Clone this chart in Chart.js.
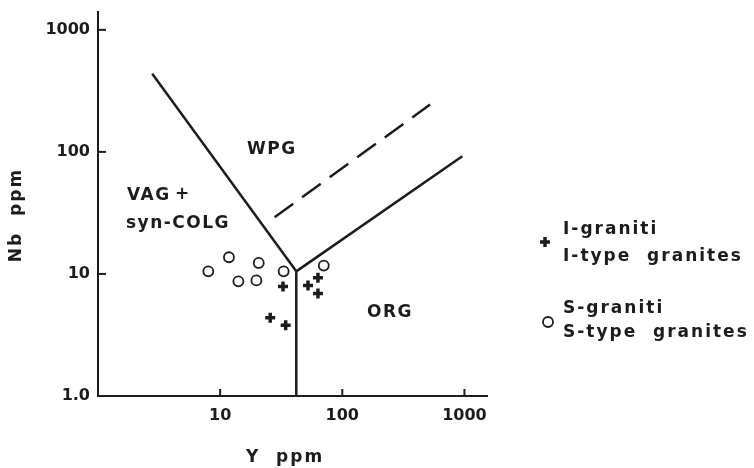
<!DOCTYPE html>
<html><head><meta charset="utf-8">
<script src="https://cdn.jsdelivr.net/npm/chart.js@4.4.1/dist/chart.umd.min.js"></script>
<style>html,body{margin:0;padding:0;background:#fff}#wrap{width:754px;height:468px}</style>
</head><body><div id="wrap"><canvas id="c" width="754" height="468"></canvas></div>
<script>
// Data (Y ppm, Nb ppm)
const iTypeY = [32.7, 63.2, 52.4, 63.2, 25.7, 34.4];
const iTypeNb = [7.9, 9.3, 8.05, 6.9, 4.38, 3.79];
const sTypeY = [11.8, 8.0, 20.7, 14.1, 19.8, 33.1, 70.5];
const sTypeNb = [13.7, 10.5, 12.3, 8.7, 8.85, 10.5, 11.7];
const vagWpgY = [2.78, 42];
const vagWpgNb = [437, 10.5];
const orgWpgY = [42, 960];
const orgWpgNb = [10.5, 92];
const vagOrgY = [42, 42];
const vagOrgNb = [10.5, 1];
const dashedY = [27.9, 523];
const dashedNb = [29.2, 244];
const xTicks = [10, 100, 1000];
const xTickLabels = ['10', '100', '1000'];
const yTicks = [1, 10, 100, 1000];
const yTickLabels = ['1.0', '10', '100', '1000'];
const fieldLabels = ['WPG', 'VAG', '+', 'syn-COLG', 'ORG'];
const legendLines = ['I-graniti', 'I-type  granites', 'S-graniti', 'S-type  granites'];
const xTitle = 'Y  ppm';
const yTitle = 'Nb  ppm';

const INK = '#1c1c1c';
const pts = (xs, ys) => xs.map((x, i) => ({x: x, y: ys[i]}));
const lineDs = (xs, ys, dash) => ({
  data: pts(xs, ys), showLine: true, borderColor: INK, borderWidth: 2.5,
  pointRadius: 0, borderDash: dash || [], fill: false
});

const overlay = {
  id: 'overlay',
  afterDraw(chart) {
    const ctx = chart.ctx, a = chart.chartArea;
    const xs = chart.scales.x, ys = chart.scales.y;
    ctx.save();
    ctx.strokeStyle = INK; ctx.lineWidth = 2;
    xTicks.forEach(v => {
      const p = xs.getPixelForValue(v);
      ctx.beginPath(); ctx.moveTo(p, a.bottom); ctx.lineTo(p, a.bottom - 7); ctx.stroke();
    });
    yTicks.forEach(v => {
      if (v === 1) return;
      const p = ys.getPixelForValue(v);
      ctx.beginPath(); ctx.moveTo(a.left, p); ctx.lineTo(a.left + 8, p); ctx.stroke();
    });
    ctx.fillStyle = INK;
    ctx.font = 'bold 17px "DejaVu Sans"';
    ctx.letterSpacing = '1.5px';
    ctx.textBaseline = 'middle';
    ctx.textAlign = 'left';
    ctx.fillText(fieldLabels[0], 247, 150);
    ctx.fillText(fieldLabels[1], 127, 196);
    ctx.fillText(fieldLabels[3], 126, 224);
    ctx.fillText(fieldLabels[4], 367, 313);
    ctx.textAlign = 'center';
    ctx.letterSpacing = '0px';
    ctx.fillText(fieldLabels[2], 182, 195);
    // legend
    ctx.textAlign = 'left';
    ctx.letterSpacing = '2px';
    ctx.fillText(legendLines[0], 563, 230);
    ctx.fillText(legendLines[1], 563, 257);
    ctx.fillText(legendLines[2], 563, 309);
    ctx.fillText(legendLines[3], 563, 333);
    ctx.lineWidth = 3.5;
    Chart.helpers.drawPoint(ctx, {pointStyle: 'cross', radius: 5, borderWidth: 3.5}, 545, 242);
    ctx.lineWidth = 1.8;
    ctx.fillStyle = '#ffffff';
    Chart.helpers.drawPoint(ctx, {pointStyle: 'circle', radius: 5, borderWidth: 1.8}, 548, 322);
    // titles
    ctx.fillStyle = INK;
    ctx.textAlign = 'center';
    ctx.fillText(xTitle, 285, 458);
    ctx.translate(17, 215); ctx.rotate(-Math.PI / 2);
    ctx.fillText(yTitle, 0, 0);
    ctx.restore();
  }
};

new Chart(document.getElementById('c'), {
  type: 'scatter',
  data: {
    datasets: [
      lineDs(vagWpgY, vagWpgNb),
      lineDs(orgWpgY, orgWpgNb),
      lineDs(vagOrgY, vagOrgNb),
      lineDs(dashedY, dashedNb, [23, 11]),
      {label: 'I-type granites', data: pts(iTypeY, iTypeNb), pointStyle: 'cross',
       pointRadius: 5, pointBorderWidth: 3.5, borderColor: INK, backgroundColor: INK},
      {label: 'S-type granites', data: pts(sTypeY, sTypeNb), pointStyle: 'circle',
       pointRadius: 5, pointBorderWidth: 1.8, borderColor: INK, backgroundColor: '#ffffff'}
    ]
  },
  options: {
    responsive: false, animation: false, devicePixelRatio: 1,
    layout: {padding: {top: 12, right: 267, left: 0, bottom: 0}},
    plugins: {legend: {display: false}, tooltip: {enabled: false}},
    scales: {
      x: {
        type: 'logarithmic', min: 1, max: 1530,
        afterBuildTicks: s => { s.ticks = xTicks.map(v => ({value: v})); },
        afterFit: s => { s.height = 72; s.paddingLeft = 0; s.paddingRight = 0; },
        ticks: {color: INK, padding: 10, maxRotation: 0, autoSkip: false,
          font: {family: 'DejaVu Sans', size: 16, weight: 'bold'},
          callback: v => xTickLabels[xTicks.indexOf(v)]},
        grid: {display: true, drawOnChartArea: false, drawTicks: false},
        border: {display: true, color: INK, width: 2}
      },
      y: {
        type: 'logarithmic', min: 1, max: 1400,
        afterBuildTicks: s => { s.ticks = yTicks.map(v => ({value: v})); },
        afterFit: s => { s.width = 98; s.paddingTop = 0; s.paddingBottom = 0; },
        ticks: {color: INK, padding: 8, autoSkip: false,
          font: {family: 'DejaVu Sans', size: 16, weight: 'bold'},
          callback: v => yTickLabels[yTicks.indexOf(v)]},
        grid: {display: true, drawOnChartArea: false, drawTicks: false},
        border: {display: true, color: INK, width: 2}
      }
    }
  },
  plugins: [overlay]
});
</script></body></html>
